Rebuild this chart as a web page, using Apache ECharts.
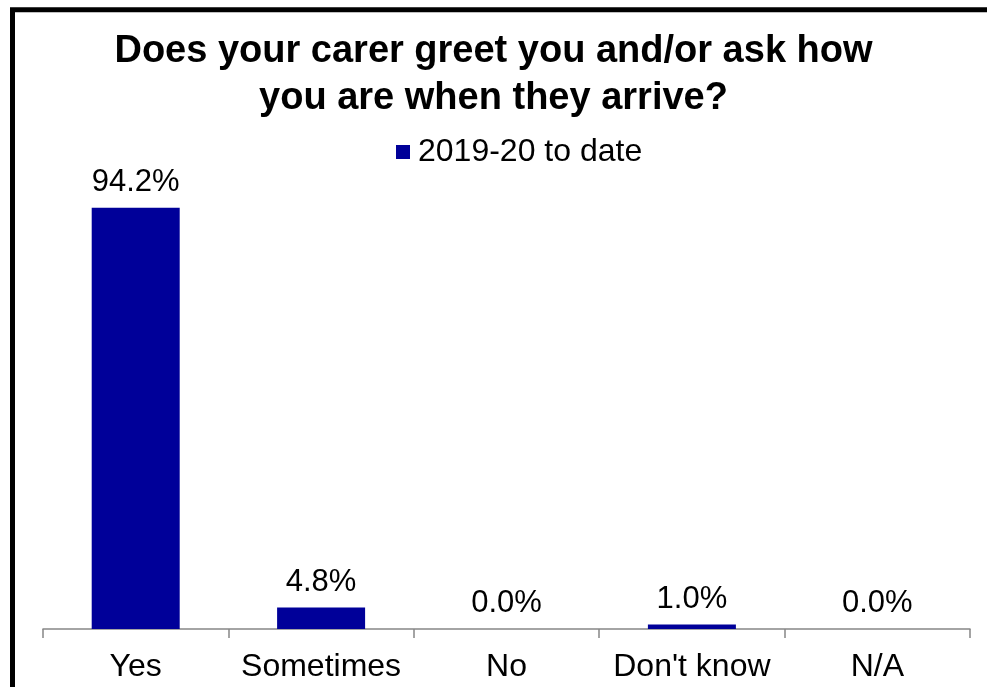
<!DOCTYPE html>
<html>
<head>
<meta charset="utf-8">
<script src="https://cdn.jsdelivr.net/npm/echarts@6/dist/echarts.min.js"></script>
<style>
html,body{margin:0;padding:0;background:#fff;}
#c{width:987px;height:687px;}
</style>
</head>
<body>
<div id="c"></div>
<script>
var categories = ["Yes", "Sometimes", "No", "Don't know", "N/A"];
var seriesName = "2019-20 to date";
var values = [94.2, 4.8, 0.0, 1.0, 0.0];
var titleText = "Does your carer greet you and/or ask how\nyou are when they arrive?";

var chart = echarts.init(document.getElementById('c'), null, {renderer: 'canvas'});
var font = "'Liberation Sans', Arial, sans-serif";
chart.setOption({
  animation: false,
  backgroundColor: '#fff',
  title: {
    text: titleText,
    left: 'center',
    top: 28,
    padding: 0,
    textStyle: {fontFamily: font, fontWeight: 'bold', fontSize: 38, lineHeight: 47, color: '#000'}
  },
  legend: {
    data: [seriesName],
    top: 136,
    left: 396,
    padding: 0,
    itemWidth: 14,
    itemHeight: 14,
    itemGap: 10,
    icon: 'rect',
    textStyle: {fontFamily: font, fontSize: 32, color: '#000', lineHeight: 32, padding: [0, 0, 0, 3]}
  },
  grid: {left: 43, right: 17, top: 181.7, bottom: 58, containLabel: false},
  xAxis: {
    type: 'category',
    data: categories,
    axisLine: {show: true, lineStyle: {color: '#868686', width: 1.5}},
    axisTick: {show: true, length: 9, alignWithLabel: false, lineStyle: {color: '#868686', width: 1.5}},
    axisLabel: {fontFamily: font, fontSize: 32, color: '#000', margin: 22, interval: 0}
  },
  yAxis: {
    type: 'value',
    min: 0,
    max: 100,
    show: false,
    splitLine: {show: false}
  },
  series: [{
    name: seriesName,
    type: 'bar',
    data: values,
    barWidth: 88,
    itemStyle: {color: '#000099'},
    label: {
      show: true,
      position: 'top',
      distance: 10,
      fontFamily: font,
      fontSize: 31,
      color: '#000',
      formatter: function (p) { return p.value.toFixed(1) + '%'; }
    }
  }],
  graphic: [{
    type: 'rect',
    shape: {x: 12.5, y: 9.7, width: 1200, height: 1000},
    style: {fill: 'none', stroke: '#000', lineWidth: 5},
    silent: true,
    z: 100
  }]
});
</script>
</body>
</html>
